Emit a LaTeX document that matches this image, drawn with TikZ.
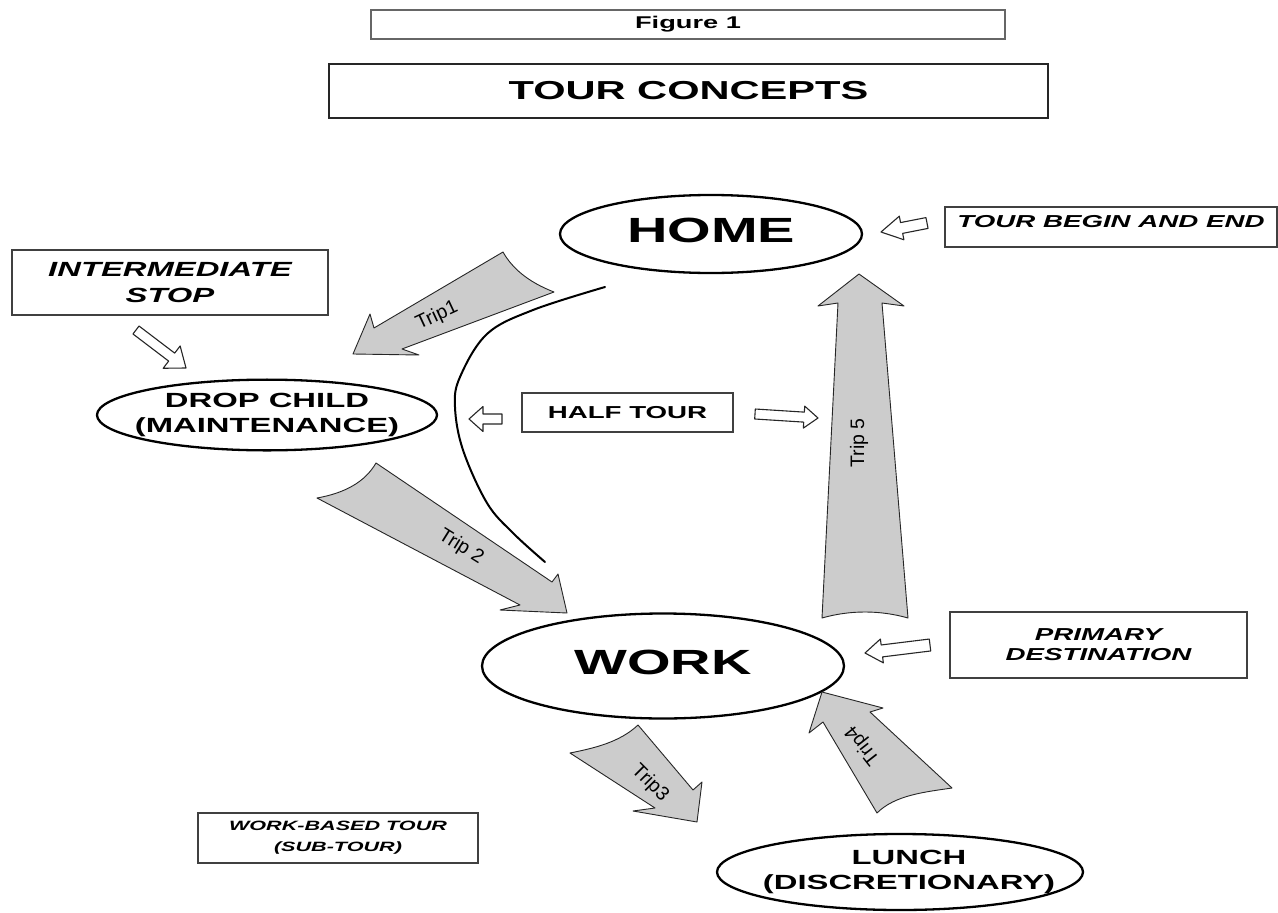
\documentclass[tikz,border=0pt]{standalone}
\usepackage{fontspec}
\setmainfont[FakeStretch=1.6]{Liberation Sans}
\newfontfamily\tripfont{Liberation Sans}
\usetikzlibrary{shapes.geometric,calc}
\newcommand\fs[2]{\fontsize{#1}{#2}\selectfont}
\newcommand\zw[1]{\makebox[0pt]{\begin{tabular}{@{}c@{}}#1\end{tabular}}}
\tikzset{
  oval/.style={ellipse, draw=black, line width=2.3pt, inner sep=0pt, align=center},
  lbox/.style={rectangle, draw=black!75, line width=1.5pt, inner sep=0pt, align=center},
  trip/.style={fill=black!20, draw=black!85, line width=0.9pt, line join=round},
  hollow/.style={fill=white, draw=black!85, line width=1.1pt, line join=round},
  triplabel/.style={font=\tripfont\fs{19.5}{20}, inner sep=0pt},
  halftour/.style={line width=2pt, line cap=round}
}
\newcommand\hollowarrow[5]{%
  \coordinate (ha-h) at ($(#2)!#5pt!(#1)$);
  \draw[hollow] ($(#1)!#3pt!90:(#2)$) -- ($(ha-h)!#3pt!90:(#2)$) -- ($(ha-h)!#4pt!90:(#2)$) -- (#2)
     -- ($(ha-h)!#4pt!-90:(#2)$) -- ($(ha-h)!#3pt!-90:(#2)$) -- ($(#1)!#3pt!-90:(#2)$) -- cycle;
}
\begin{document}
\begin{tikzpicture}[x=1pt,y=-1pt]
\useasboundingbox (0,0) rectangle (1278,913);
\fill[white] (0,0) rectangle (1278,913);

% titles
\node[lbox, draw=black!60, line width=1.2pt, font=\bfseries\fs{17}{20}, minimum width=634, minimum height=29] (fig) at (688,24.5) {Figure 1};
\node[lbox, draw=black!85, line width=1.8pt, font=\bfseries\fs{26}{30}, minimum width=719, minimum height=54] (title) at (688.5,91) {TOUR CONCEPTS};

% ovals
\node[oval, font=\bfseries\fs{35}{40}, minimum width=302, minimum height=78] (home) at (711,234) {\zw{HOME}};
\node[oval, font=\bfseries\fs{35}{40}, minimum width=362, minimum height=105] (work) at (663,666) {\zw{WORK}};
\node[oval, font=\bfseries\fs{20.5}{25}, minimum width=366, minimum height=76] (lunch) at (900,872) {\zw{\hspace*{18pt}LUNCH\\\hspace*{18pt}(DISCRETIONARY)}};
\node[oval, font=\bfseries\fs{20.5}{25}, minimum width=340, minimum height=70] (drop) at (267,415) {\zw{DROP CHILD\\(MAINTENANCE)}};

% label boxes
\node[lbox, font=\bfseries\itshape\fs{20.5}{26}, minimum width=316, minimum height=65] (inter) at (170,282.5) {INTERMEDIATE\\STOP};
\node[lbox, font=\bfseries\itshape\fs{17.3}{20}, minimum width=332, minimum height=40] (begin) at (1111,227) {\smash{TOUR BEGIN AND END}};
\node[lbox, font=\bfseries\fs{17.3}{20}, minimum width=211, minimum height=39] (half) at (627.5,412.5) {HALF TOUR};
\node[lbox, font=\bfseries\itshape\fs{17.3}{20}, minimum width=297, minimum height=66] (prim) at (1098.5,645) {PRIMARY\\DESTINATION};
\node[lbox, font=\bfseries\itshape\fs{13.5}{21}, minimum width=280, minimum height=50] (sub) at (338,838) {WORK-BASED TOUR\\(SUB-TOUR)};

% half-tour bracket curve
\draw[halftour] plot[smooth, tension=0.6] coordinates {(605,287) (533,310) (487,334) (460,377) (455,407) (463,450) (487,503) (513,533) (545,562)};

% trip block arrows
\draw[trip] (353,354) -- (370,314) -- (374,328) -- (503,252) .. controls (512,268) and (528,282) .. (554,292) -- (402,349) -- (419,355) -- cycle;
\draw[trip] (376,463) -- (552,582) -- (558,574) -- (567,613) -- (500,610) -- (520,605) -- (317,498) .. controls (345,493) and (365,482) .. (376,463) -- cycle;
\draw[trip] (570,753) .. controls (595,748) and (620,742) .. (638,725) -- (693,790) -- (702,782) -- (697,822) -- (633,811) -- (655,808) -- cycle;
\draw[trip] (822,692) -- (883,708) -- (870,712) -- (952,788) .. controls (925,792) and (895,795) .. (877,813) -- (823,722) -- (809,733) -- cycle;
\draw[trip] (859,274) -- (904,306) -- (882,303) -- (908,618) .. controls (880,610) and (850,610) .. (822,618) -- (838,303) -- (818,306) -- cycle;

\node[triplabel, rotate=25] (t1) at (437,316) {Trip1};
\node[triplabel, rotate=-32] (t2) at (461,547) {Trip 2};
\node[triplabel, rotate=-45] (t3) at (650,783) {Trip3};
\node[triplabel, rotate=128] (t4) at (863,745) {Trip4};
\node[triplabel, rotate=90] (t5) at (859,443) {Trip 5};

% hollow pointer arrows
\hollowarrow{927,223}{881,232}{5.5}{12}{21}
\hollowarrow{136,330}{186,368}{5}{14}{18}
\hollowarrow{502,419}{469,419}{5}{12.5}{14}
\hollowarrow{755,414}{818,418}{5}{11}{14}
\hollowarrow{930,645}{865,653}{6}{12}{17}
\end{tikzpicture}
\end{document}
